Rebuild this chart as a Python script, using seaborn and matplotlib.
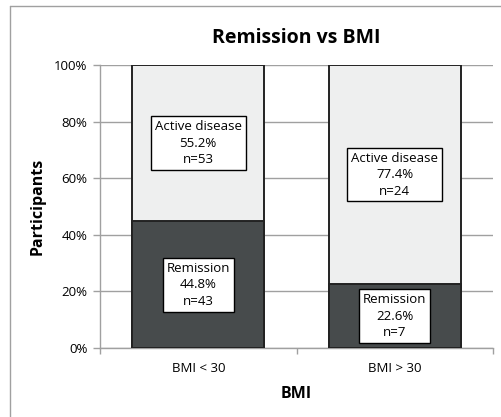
import pandas as pd
import seaborn as sns
from matplotlib import pyplot as plt
from matplotlib.lines import Line2D

groups = ['BMI < 30', 'BMI > 30']
remission_pct = [44.8, 22.6]
active_pct = [55.2, 77.4]
remission_n = [43, 7]
active_n = [53, 24]

df = pd.DataFrame({'BMI': groups,
                   'Remission': remission_pct,
                   'Active': active_pct})
df['Total'] = df['Remission'] + df['Active']

sns.set_style("white")
plt.rcParams['font.family'] = ['Open Sans', 'DejaVu Sans']
plt.rcParams['text.color'] = 'black'
plt.rcParams['axes.labelcolor'] = 'black'
plt.rcParams['xtick.labelcolor'] = 'black'
plt.rcParams['ytick.labelcolor'] = 'black'

fig = plt.figure(figsize=(5.01, 4.17), dpi=100)
ax = fig.add_axes([100 / 501, 69 / 417, 393 / 501, 283 / 417])

dark = '#474b4c'
light = '#eeefef'
edge = '#222222'

# stacked bars: full height light, remission dark on top
sns.barplot(x='BMI', y='Total', data=df, color=light, width=0.67,
            edgecolor=edge, linewidth=1.4, saturation=1, ax=ax, zorder=3)
sns.barplot(x='BMI', y='Remission', data=df, color=dark, width=0.67,
            edgecolor=edge, linewidth=1.4, saturation=1, ax=ax, zorder=3)

box = dict(boxstyle='square,pad=0.3', facecolor='white', edgecolor='black', linewidth=1)
for i in range(len(groups)):
    ax.text(i, remission_pct[i] + active_pct[i] / 2,
            f"Active disease\n{active_pct[i]}%\nn={active_n[i]}",
            ha='center', va='center', fontsize=9.5, linespacing=1.35, bbox=box, zorder=5)
    ax.text(i, remission_pct[i] / 2,
            f"Remission\n{remission_pct[i]}%\nn={remission_n[i]}",
            ha='center', va='center', fontsize=9.5, linespacing=1.35, bbox=box, zorder=5)

ax.set_xlim(-0.5, 1.5)
ax.set_ylim(0, 100)
ax.set_yticks(range(0, 101, 20))
ax.set_yticklabels([f"{v}%" for v in range(0, 101, 20)], fontsize=9.5)
ax.set_xticks(range(len(groups)))
ax.set_xticklabels(groups, fontsize=9.5)
ax.set_xticks([-0.5, 0.5, 1.5], minor=True)
ax.grid(axis='y', color='#a0a0a0', linewidth=1, zorder=0)
ax.tick_params(axis='y', length=5, color='#a0a0a0', width=1, left=True, pad=4)
ax.tick_params(axis='x', which='major', length=0, pad=10)
ax.tick_params(axis='x', which='minor', length=4, color='#a0a0a0', width=1, bottom=True)
for s in ['top', 'right']:
    ax.spines[s].set_visible(False)
for s in ['left', 'bottom']:
    ax.spines[s].set_color('#a0a0a0')
    ax.spines[s].set_linewidth(1)

ax.set_xlabel('BMI', fontsize=11.5, fontweight='bold', labelpad=8)
ax.set_ylabel('Participants', fontsize=11.5, fontweight='bold', labelpad=6)
ax.set_title('Remission vs BMI', fontsize=14, fontweight='bold', pad=16)

# outer chart frame (cropped at right and bottom)
fig.add_artist(Line2D([9.5 / 501, 9.5 / 501], [0, 1 - 6 / 417], color='#a0a0a0', lw=1))
fig.add_artist(Line2D([9.5 / 501, 1], [1 - 6 / 417, 1 - 6 / 417], color='#a0a0a0', lw=1))

fig.savefig('out.png', dpi=100)
